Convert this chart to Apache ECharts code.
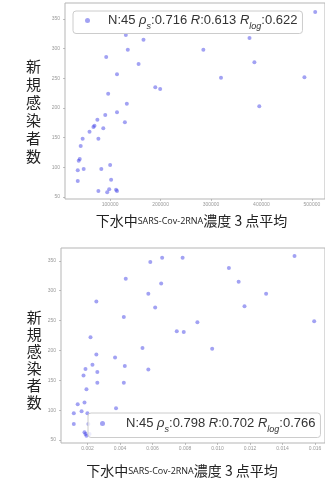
<!DOCTYPE html>
<html>
<head>
<meta charset="utf-8">
<script src="https://cdn.jsdelivr.net/npm/echarts@6/dist/echarts.min.js"></script>
<style>
html,body{margin:0;padding:0;background:#fff;}
#c{width:325px;height:479px;}
</style>
</head>
<body>
<div id="c"></div>
<script>
// ---- data: top chart (concentration vs new cases) ----
const topX = [506600,131100,166100,376300,284800,135000,92200,156400,386000,113600,319800,485200,189500,199200,96100,133100,395700,113600,90300,74700,129200,68900,66900,86400,59100,45500,76700,41600,39700,37700,100000,35800,47500,82500,35800,101900,76700,98100,94200,111700,113600];
const topY = [362,323,315,318,298,298,286,274,277,257,251,252,235,232,224,207,203,193,188,180,176,170,168,166,160,148,148,136,114,111,104,95,97,97,77,79,60,63,58,62,60];
// ---- data: bottom chart ----
const botX = [0.00254,0.00435,0.00586,0.00659,0.00785,0.00653,0.00574,0.00616,0.00423,0.00218,0.00254,0.00369,0.00538,0.00749,0.00792,0.00876,0.00967,0.0107,0.0113,0.01166,0.01299,0.01474,0.01595,0.0023,0.00187,0.00175,0.0026,0.00429,0.00574,0.0026,0.00423,0.00193,0.00139,0.00181,0.00375,0.00115,0.00163,0.00199,0.00115,0.00181,0.00187,0.00193,0.00205,0.00212];
const botY = [282,320,348,355,355,312,295,272,256,222,193,188,204,232,231,247,203,338,315,274,295,358,249,176,169,158,164,174,168,146,146,135,110,113,103,95,98,95,77,63,60,57,77,60];
// ---- tick labels ----
const topXTicks = [100000,200000,300000,400000,500000];
const botXTicks = [0.002,0.004,0.006,0.008,0.010,0.012,0.014,0.016];
const yTicks = [50,100,150,200,250,300,350];
const yChars = ['新','規','感','染','者','数'];
const xName = '{c|下水中}{s|SARS-Cov-2RNA}{c|濃度 3 点平均}';
const topName = 'N:45 ρs:0.716 R:0.613 Rlog:0.622';
const botName = 'N:45 ρs:0.798 R:0.702 Rlog:0.766';
const topStats = ['45','0.716','0.613','0.622'];
const botStats = ['45','0.798','0.702','0.766'];

const ptColor = 'rgba(60,60,230,0.6)';
const lblStyle = {fontSize:5, color:'#999', fontFamily:'Liberation Sans'};
const tickStyle = {show:true, length:2, lineStyle:{color:'#999', width:0.6}};
const richLegend = {
  sp:{width:13, fontSize:13},
  sp2:{width:16, fontSize:13},
  a:{fontSize:13, fontFamily:'Liberation Sans', color:'#333', lineHeight:20},
  i:{fontSize:13, fontFamily:'Liberation Sans', fontStyle:'italic', color:'#333', lineHeight:20},
  sub:{fontSize:9, fontFamily:'Liberation Sans', fontStyle:'italic', color:'#333', verticalAlign:'bottom', lineHeight:20}
};
function legendText(s, sp){
  return '{'+sp+'| }{a|N:'+s[0]+' }{i|ρ}{sub|s}{a|:'+s[1]+' }{i|R}{a|:'+s[2]+' }{i|R}{sub|log}{a|:'+s[3]+'}';
}
function yNameText(){
  return '{g| }\n' + yChars.map(c=>'{v|'+c+'}').join('\n');
}
function yRich(gap, lh){
  return {
    g:{fontSize:1, height:gap, lineHeight:gap},
    v:{fontSize:15, lineHeight:lh, fontFamily:'Noto Sans CJK JP', color:'#222'}
  };
}
const nameRich = {
  c:{fontSize:14, fontFamily:'Noto Sans CJK JP', color:'#222'},
  s:{fontSize:9, fontFamily:'Open Sans', color:'#222'}
};

const chart = echarts.init(document.getElementById('c'), null, {renderer:'canvas'});
chart.setOption({
  animation:false,
  backgroundColor:'#fff',
  grid:[
    {left:65, right:-5, top:3, bottom:280, show:true, borderColor:'#b5b5b5', borderWidth:1, containLabel:false},
    {left:61, right:-5, top:248, bottom:34, show:true, borderColor:'#b5b5b5', borderWidth:1, containLabel:false}
  ],
  xAxis:[
    {type:'value', gridIndex:0, min:10500, max:526000,
     axisLine:{show:false}, splitLine:{show:false},
     axisLabel:Object.assign({customValues:topXTicks, margin:3, formatter:v=>String(v)}, lblStyle),
     axisTick:Object.assign({customValues:topXTicks}, tickStyle),
     name:xName, nameLocation:'middle', nameGap:15,
     nameTextStyle:{rich:nameRich, padding:[0,7,0,0]}},
    {type:'value', gridIndex:1, min:0.000363, max:0.016616,
     axisLine:{show:false}, splitLine:{show:false},
     axisLabel:Object.assign({customValues:botXTicks, margin:3, formatter:v=>v.toFixed(3)}, lblStyle),
     axisTick:Object.assign({customValues:botXTicks}, tickStyle),
     name:xName, nameLocation:'middle', nameGap:21,
     nameTextStyle:{rich:nameRich, padding:[0,22,0,0]}}
  ],
  yAxis:[
    {type:'value', gridIndex:0, min:46.6, max:377,
     axisLine:{show:false}, splitLine:{show:false},
     axisLabel:Object.assign({customValues:yTicks, margin:5}, lblStyle),
     axisTick:Object.assign({customValues:yTicks}, tickStyle),
     name:yNameText(), nameLocation:'middle', nameRotate:0, nameGap:24,
     nameTextStyle:{rich:yRich(20,18)}},
    {type:'value', gridIndex:1, min:45, max:371.5,
     axisLine:{show:false}, splitLine:{show:false},
     axisLabel:Object.assign({customValues:yTicks, margin:5}, lblStyle),
     axisTick:Object.assign({customValues:yTicks}, tickStyle),
     name:yNameText(), nameLocation:'middle', nameRotate:0, nameGap:19,
     nameTextStyle:{rich:yRich(28,17)}}
  ],
  legend:[
    {data:[topName], left:73, top:11, orient:'horizontal', icon:'circle', itemWidth:5, itemHeight:5,
     padding:[3,5,3,12], backgroundColor:'rgba(255,255,255,0.8)', borderColor:'#ccc', borderWidth:1, borderRadius:3,
     formatter:()=>legendText(topStats,'sp'), textStyle:{rich:richLegend}, selectedMode:false},
    {data:[botName], left:88, top:413, orient:'horizontal', icon:'circle', itemWidth:5, itemHeight:5,
     padding:[4,5,4,12], backgroundColor:'rgba(255,255,255,0.8)', borderColor:'#ccc', borderWidth:1, borderRadius:3,
     formatter:()=>legendText(botStats,'sp2'), textStyle:{rich:richLegend}, selectedMode:false}
  ],
  series:[
    {name:topName, type:'scatter', xAxisIndex:0, yAxisIndex:0, symbolSize:4,
     itemStyle:{color:ptColor}, data:topX.map((x,i)=>[x, topY[i]])},
    {name:botName, type:'scatter', xAxisIndex:1, yAxisIndex:1, symbolSize:4,
     itemStyle:{color:ptColor}, data:botX.map((x,i)=>[x, botY[i]])}
  ]
});
</script>
</body>
</html>
